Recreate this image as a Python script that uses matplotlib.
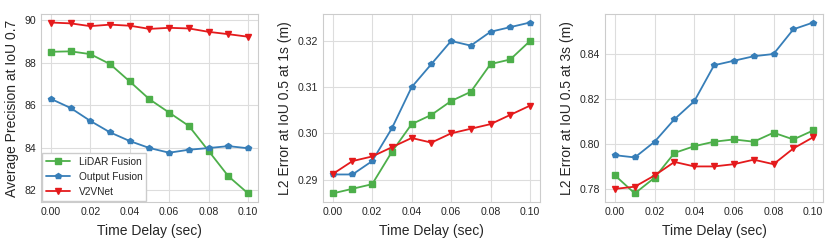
import matplotlib
matplotlib.use("Agg")
import matplotlib.pyplot as plt
import seaborn as sns

delays = [0.00, 0.01, 0.02, 0.03, 0.04, 0.05, 0.06, 0.07, 0.08, 0.09, 0.10]

ap_lidar = [88.52, 88.54, 88.41, 87.94, 87.12, 86.28, 85.65, 85.02, 83.84, 82.65, 81.84]
ap_output = [86.30, 85.87, 85.26, 84.72, 84.31, 83.98, 83.76, 83.90, 83.98, 84.07, 83.97]
ap_v2v = [89.90, 89.86, 89.73, 89.80, 89.75, 89.60, 89.65, 89.62, 89.46, 89.35, 89.23]

l2_1s_lidar = [0.287, 0.288, 0.289, 0.296, 0.302, 0.304, 0.307, 0.309, 0.315, 0.316, 0.320]
l2_1s_output = [0.2911, 0.2911, 0.294, 0.3011, 0.310, 0.315, 0.320, 0.319, 0.322, 0.323, 0.324]
l2_1s_v2v = [0.2912, 0.294, 0.295, 0.297, 0.299, 0.298, 0.300, 0.301, 0.302, 0.304, 0.306]

l2_3s_lidar = [0.786, 0.778, 0.785, 0.796, 0.799, 0.801, 0.802, 0.801, 0.805, 0.802, 0.806]
l2_3s_output = [0.795, 0.794, 0.801, 0.811, 0.819, 0.835, 0.837, 0.839, 0.840, 0.851, 0.854]
l2_3s_v2v = [0.780, 0.781, 0.786, 0.792, 0.790, 0.790, 0.791, 0.793, 0.791, 0.798, 0.803]

series_names = ["LiDAR Fusion", "Output Fusion", "V2VNet"]
ylabels = ["Average Precision at IoU 0.7", "L2 Error at IoU 0.5 at 1s (m)", "L2 Error at IoU 0.5 at 3s (m)"]
xlabel = "Time Delay (sec)"

sns.set_theme(style="whitegrid")
plt.rcParams['font.family'] = ['Liberation Sans', 'DejaVu Sans']

colors = ["#4daf4a", "#377eb8", "#e41a1c"]
markers = ["s", "p", "v"]

fig = plt.figure(figsize=(8.3, 2.41), dpi=100)
positions = [(0.0494, 0.162, 0.2614, 0.780),
             (0.389, 0.162, 0.2614, 0.780),
             (0.729, 0.162, 0.2627, 0.780)]
data = [(ap_lidar, ap_output, ap_v2v),
        (l2_1s_lidar, l2_1s_output, l2_1s_v2v),
        (l2_3s_lidar, l2_3s_output, l2_3s_v2v)]
yticks = [[82, 84, 86, 88, 90], [0.29, 0.30, 0.31, 0.32], [0.78, 0.80, 0.82, 0.84]]
yfmt = ["{:.0f}", "{:.2f}", "{:.2f}"]

for i, (pos, ds) in enumerate(zip(positions, data)):
    ax = fig.add_axes(pos)
    for name, vals, c, m in zip(series_names, ds, colors, markers):
        ax.plot(delays, vals, color=c, marker=m, markersize=4.5 if m != "p" else 4.2,
                linewidth=1.3, label=name)
    ax.set_xticks([0.00, 0.02, 0.04, 0.06, 0.08, 0.10])
    ax.set_xticklabels(["0.00", "0.02", "0.04", "0.06", "0.08", "0.10"])
    ax.set_yticks(yticks[i])
    ax.set_yticklabels([yfmt[i].format(v) for v in yticks[i]])
    ax.tick_params(labelsize=7.6, length=0, pad=3.5)
    ax.set_xlabel(xlabel, fontsize=10, labelpad=5)
    ax.set_ylabel(ylabels[i], fontsize=10, labelpad=4)
    for s in ax.spines.values():
        s.set_color("#cccccc")
        s.set_linewidth(0.8)
    ax.grid(color="#dddddd", linewidth=0.8)
    if i == 0:
        leg = ax.legend(loc="lower left", fontsize=7.3, borderaxespad=0.1,
                        frameon=True, framealpha=1.0, fancybox=False,
                        handlelength=2.4, labelspacing=0.5)
        leg.get_frame().set_edgecolor("#cccccc")

fig.savefig("out.png", dpi=100)
